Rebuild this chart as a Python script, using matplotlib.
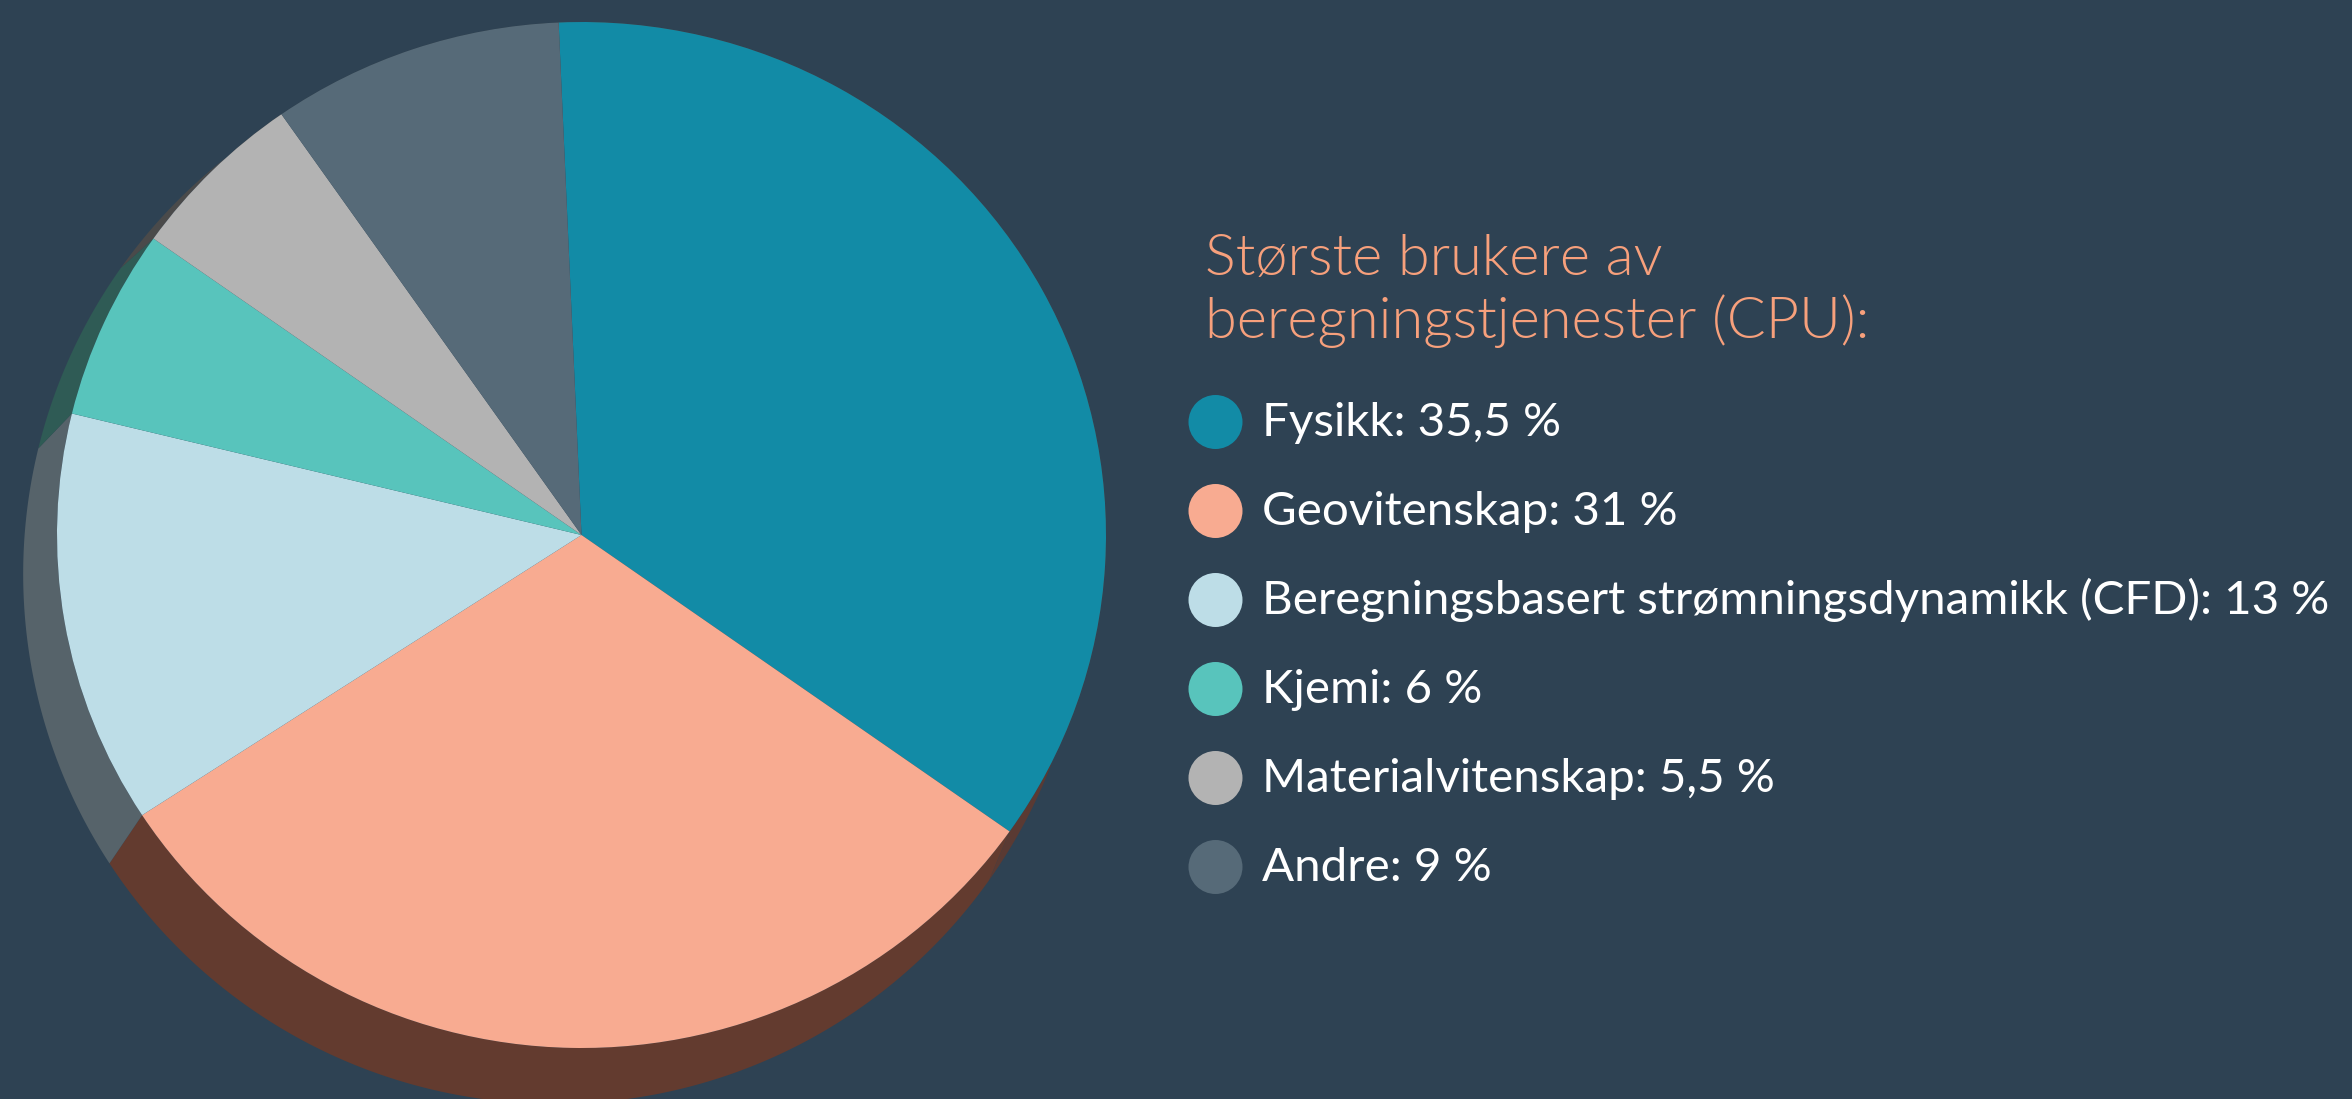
import numpy as np
import matplotlib
matplotlib.use("Agg")
import matplotlib.pyplot as plt
from matplotlib.patches import Polygon, Circle

plt.rcParams['font.family'] = ['Lato', 'DejaVu Sans']

# ---------------- data ----------------
categories = ["Fysikk", "Geovitenskap", "Beregningsbasert strømningsdynamikk (CFD)",
              "Kjemi", "Materialvitenskap", "Andre"]
values = [35.5, 31, 13, 6, 5.5, 9]
colors = ["#128ba6", "#f8ab91", "#bddde7", "#58c4bc", "#b3b3b3", "#566a78"]
shadow_colors = ["#5a3a33", "#633b2f", "#56636a", "#2f5b55", "#4a4a4a", "#2c3a45"]
title_lines = ["Største brukere av", "beregningstjenester (CPU):"]

bg = "#2e4253"
W, H = 2352, 1099

fig = plt.figure(figsize=(W / 100, H / 100), dpi=100, facecolor=bg)

# ---------------- pie axes (unit circle stretched to the slightly oval pie) ----------------
pcx, pcy = 581.5, H - 535      # pie centre in pixels from bottom-left
rx, ry = 524.5, 513
ax = fig.add_axes([0, 0, 1, 1])
ax.set_facecolor(bg)

start = 92.5
# extruded side wall: the disc pushed down-left
sx, sy = -0.0505, -0.076
srx, sry = 1.014, 1.033
fracs = np.array(values) / np.sum(values)
theta = start
for i, f in enumerate(fracs):
    t1, t2 = theta, theta - f * 360
    a = np.radians(np.linspace(t1, t2, 200))
    top = np.column_stack([np.cos(a), np.sin(a)])
    bot = np.column_stack([sx + srx * np.cos(a), sy + sry * np.sin(a)])
    pts = np.vstack([top, bot[::-1]])
    ax.add_patch(Polygon(pts, closed=True, facecolor=shadow_colors[i],
                         edgecolor='none', zorder=1))
    theta = t2

ax.pie(values, colors=colors, startangle=start, counterclock=False,
       center=(0, 0), radius=1, frame=True,
       wedgeprops=dict(linewidth=0, zorder=2))

ax.set_xlim(-pcx / rx, (W - pcx) / rx)
ax.set_ylim(-pcy / ry, (H - pcy) / ry)
ax.set_aspect('auto')
ax.axis('off')

# ---------------- text axes in pixels ----------------
tx = fig.add_axes([0, 0, 1, 1])
tx.patch.set_alpha(0)
tx.set_xlim(0, W)
tx.set_ylim(0, H)
tx.axis('off')

tx.text(1205, H - 275, title_lines[0], fontsize=41.5, fontweight=300,
        color="#f7a07c", ha='left', va='baseline')
tx.text(1205, H - 338, title_lines[1], fontsize=41.5, fontweight=300,
        color="#f7a07c", ha='left', va='baseline')

for i, (cat, val) in enumerate(zip(categories, values)):
    yc = 422 + i * 89
    tx.add_patch(Circle((1215.5, H - yc), 27, facecolor=colors[i],
                        edgecolor='none', zorder=3))
    label = f"{cat}: {val:g}".replace('.', ',') + " %"
    tx.text(1262, H - (yc + 14), label, fontsize=34.2, color="white",
            ha='left', va='baseline')

fig.savefig("out.png", dpi=100, facecolor=bg)
